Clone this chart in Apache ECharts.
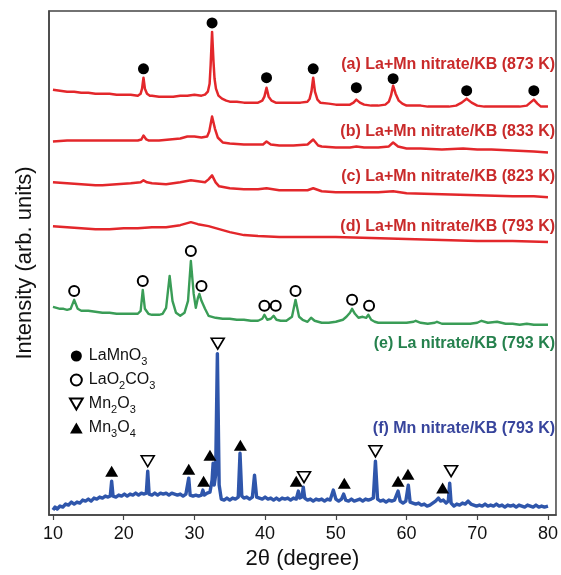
<!DOCTYPE html>
<html>
<head>
<meta charset="utf-8">
<script src="https://cdn.jsdelivr.net/npm/echarts@6/dist/echarts.min.js"></script>
<style>
html,body{margin:0;padding:0;background:#fff;}
#chart{width:561px;height:575px;}
</style>
</head>
<body>
<div id="chart"></div>
<script>
// X ticks
const xTicks = [10, 20, 30, 40, 50, 60, 70, 80];

// Trace labels
const traceNames = [
  '(a) La+Mn nitrate/KB (873 K)',
  '(b) La+Mn nitrate/KB (833 K)',
  '(c) La+Mn nitrate/KB (823 K)',
  '(d) La+Mn nitrate/KB (793 K)',
  '(e) La nitrate/KB (793 K)',
  '(f) Mn nitrate/KB (793 K)'
];

// Intensity (arb. units, offset stacked)
const traceA = [[10,427],[11,426],[12,425],[13,425],[14,424],[15,424],[16,423],[17,423],[18,423],[19,422],[20,422],[21,422],[22,421],[22.4,423],[22.6,428],[22.8,439],[23.0,428],[23.3,423],[23.7,421],[24,421],[25,420],[26,420],[27,420],[28,421],[29,421],[30,422],[31,421],[31.5,422],[31.9,425],[32.15,433],[32.3,452],[32.5,485],[32.7,455],[32.85,438],[33.05,428],[33.4,421],[33.9,418],[34.5,416],[35,415],[36,415],[37,414],[38,414],[39,414],[39.6,416],[39.9,420],[40.2,429],[40.5,420],[40.9,416],[41.5,414],[42,414],[43,414],[44,414],[45,414],[46,415],[46.3,418],[46.55,425],[46.8,439],[47.05,425],[47.4,417],[47.8,414],[48,413],[49,413],[50,412],[51,412],[52,412],[52.5,414],[52.9,417],[53.4,414],[54,412],[55,411],[56,411],[57,412],[57.5,415],[57.8,421],[58.1,431],[58.45,423],[58.9,416],[59.4,413],[60,411],[61,411],[62,411],[63,410],[64,410],[65,410],[66,410],[67,411],[67.8,414],[68.5,418],[69.2,414],[70,411],[71,410],[72,410],[73,410],[74,410],[75,410],[76,410],[77,411],[77.5,414],[78,417],[78.5,413],[79,410],[80,410]];
const traceB = [[10,375],[12,376],[15,376],[20,376],[22,376],[22.5,377],[22.8,381],[23.2,377],[23.5,376],[25,376],[28,378],[29,380],[30,380],[31,379],[31.8,380],[32.1,385],[32.5,400],[32.9,388],[33.3,379],[34,374],[35,373],[37,372],[39,372],[39.7,372],[40.2,375],[40.8,372],[42,371],[44,371],[46,372],[46.8,377],[47.5,371],[48,370],[50,369],[52,369],[52.9,370],[54,369],[56,369],[57.5,370],[58.1,374],[58.8,370],[60,368],[62,368],[65,367],[68,368],[70,367],[72,367],[75,366],[78,365],[80,364]];
const traceC = [[10,334],[12,333],[14,332],[16,331],[17,331],[19,332],[21,333],[22.4,334],[22.8,336],[23.3,334],[24,333],[26,332],[28,334],[29.5,336],[30.5,335],[31.5,334],[32,337],[32.5,341],[33,334],[33.5,330],[35,328],[37,327],[39,327],[40.2,328],[42,326],[44,326],[46,326],[46.8,328],[48,325],[50,324],[53,324],[56,324],[58.1,325],[60,323],[65,322],[70,321],[75,320],[78,320],[80,319]];
const traceD = [[10,290],[12,289],[14,288],[16,287],[18,287],[20,288],[22,288],[24,289],[26,289],[28,291],[29.5,294],[30.5,292],[32,290],[33,288],[35,284],[37,281],[39,280],[42,279],[45,279],[48,279],[50,279],[55,278],[60,277],[65,276],[70,275],[75,275],[80,274]];
const traceE = [[10,209],[10.5,208],[11,207],[11.5,207],[12,206],[12.5,207],[13.0,216],[13.5,207],[14,205],[15,205],[16,204],[17,203],[18,203],[19,202],[20,202],[21,202],[22,202],[22.4,205],[22.7,226],[23.0,207],[23.5,202],[24,201],[25,201],[25.5,202],[26.0,208],[26.5,240],[26.9,215],[27.4,203],[28,200],[28.6,203],[29.1,215],[29.5,255],[29.9,222],[30.2,208],[30.5,218],[30.7,222],[31.0,215],[31.2,217],[31.5,207],[32,200],[32.5,199],[33,198],[34,197],[35,197],[36,196],[37,196],[38,195],[39,195],[39.6,197],[39.9,201],[40.3,196],[40.8,197],[41.2,200],[41.6,196],[42.2,195],[43,195],[43.8,199],[44.3,216],[44.8,199],[45.3,196],[46,194],[46.5,198],[47,195],[48,193],[49,193],[50,194],[51,196],[51.5,199],[52,203],[52.3,207],[52.7,202],[53.2,198],[53.8,199],[54.3,198],[54.6,201],[55,196],[55.5,194],[56,193],[57,193],[58,193],[59,193],[60,193],[61,194],[61.3,195],[62,193],[63,192],[64,193],[64.3,194],[65,192],[66,192],[67,192],[68,192],[69,192],[70,193],[70.6,195],[71.5,193],[72.8,194],[74,192],[75,192],[76,191],[77,192],[78,191],[79,191],[80,191]];
const traceF = [[10,5],[10.3,8],[10.6,6],[11,9],[11.4,8],[11.8,11],[12.2,10],[12.6,13],[13,11],[13.4,13],[13.8,12],[14.2,15],[14.6,14],[15,16],[15.4,14],[15.8,17],[16.2,16],[16.6,18],[17,17],[17.4,19],[17.8,18],[18.1,19],[18.3,34],[18.5,19],[18.9,18],[19.3,20],[19.7,19],[20.1,21],[20.5,19],[20.9,21],[21.3,20],[21.7,22],[22.1,20],[22.5,22],[22.9,21],[23.2,22],[23.4,44],[23.6,21],[24,20],[24.4,22],[24.8,20],[25.2,22],[25.6,21],[26,22],[26.4,20],[26.8,22],[27.2,21],[27.6,20],[28,21],[28.4,19],[28.8,21],[29.0,21],[29.2,37],[29.4,20],[29.8,19],[30.2,20],[30.6,19],[31.0,20],[31.2,25],[31.4,20],[31.8,22],[32.2,23],[32.5,35],[32.65,52],[32.8,30],[33.0,40],[33.25,162],[33.5,30],[33.8,16],[34.2,15],[34.6,17],[35,15],[35.4,17],[35.8,16],[36.2,18],[36.45,62],[36.7,19],[37,17],[37.4,18],[37.8,16],[38.2,18],[38.5,40],[38.8,18],[39.2,17],[39.6,16],[40,18],[40.4,16],[40.8,17],[41.2,15],[41.6,17],[42,15],[42.4,17],[42.8,16],[43.2,17],[43.6,15],[44,17],[44.4,16],[44.7,24],[44.9,17],[45.2,18],[45.4,28],[45.6,17],[46,15],[46.4,16],[46.8,14],[47.2,16],[47.6,15],[48,16],[48.4,14],[48.8,16],[49.2,15],[49.65,25],[50,16],[50.4,14],[50.8,16],[51.1,21],[51.4,15],[51.8,14],[52.2,16],[52.6,14],[53,15],[53.4,16],[53.8,14],[54.2,16],[54.6,15],[55,16],[55.3,17],[55.6,54],[55.9,16],[56.3,14],[56.7,15],[57.1,13],[57.5,15],[57.9,14],[58.3,15],[58.8,24],[59.1,14],[59.5,12],[59.9,14],[60.25,30],[60.5,13],[60.9,12],[61.3,11],[61.7,12],[62.1,10],[62.5,11],[62.9,9],[63.3,10],[63.7,12],[64.1,14],[64.5,17],[64.8,14],[65.2,15],[65.6,12],[65.9,14],[66.1,32],[66.3,12],[66.7,9],[67.1,11],[67.5,10],[67.9,12],[68.3,11],[68.7,14],[69.1,11],[69.5,10],[69.9,9],[70.3,10],[70.7,9],[71.1,11],[71.5,9],[71.9,10],[72.3,9],[72.7,11],[73.1,9],[73.5,10],[73.9,8],[74.3,10],[74.7,9],[75.1,10],[75.5,8],[75.9,10],[76.3,9],[76.7,8],[77.1,10],[77.5,9],[77.9,8],[78.3,10],[78.7,8],[79.1,9],[79.5,8],[80,9]];

// Phase marker positions [2θ, intensity]
const laMnO3Marks = [[22.8,448],[32.5,494],[40.2,439],[46.8,448],[52.9,429],[58.1,438],[68.5,426],[78,426]];
const laO2CO3Marks = [[13.0,225],[22.7,235],[29.5,265],[31.0,230],[39.9,210],[41.5,210],[44.3,225],[52.3,216],[54.7,210]];
const mn2O3Marks = [[23.4,54],[33.3,172],[45.5,38],[55.6,64],[66.3,44]];
const mn3O4Marks = [[18.3,44],[29.2,46],[31.3,34],[32.2,60],[36.5,70],[44.4,34],[51.2,32],[58.8,34],[60.2,41],[65.1,27]];

// Label anchor intensities for trace names
const labelLevels = [452, 385, 340, 290, 172, 87];

const traces = [traceA, traceB, traceC, traceD, traceE, traceF];
const lineColors = ['#e3272b', '#e3272b', '#e3272b', '#e3272b', '#3a9d57', '#2f56ab'];
const labelColors = ['#c92a2a', '#c92a2a', '#c92a2a', '#c92a2a', '#25814d', '#37449c'];
const lineWidths = [2.5, 2.5, 2.5, 2.5, 2.4, 3.4];

const FONT = '"Liberation Sans", Arial, Helvetica, sans-serif';

const chart = echarts.init(document.getElementById('chart'), null, {renderer: 'canvas'});

const series = [];
traces.forEach((d, i) => {
  series.push({
    type: 'line',
    name: traceNames[i],
    data: d,
    showSymbol: false,
    symbol: 'none',
    smooth: false,
    lineStyle: {color: lineColors[i], width: lineWidths[i], join: 'round', opacity: 1},
    silent: true,
    z: 2
  });
});

const downTri = 'path://M0,0 L12,0 L6,10.4 Z';
const upTri = 'path://M6,0 L12,10.4 L0,10.4 Z';

series.push({
  type: 'scatter', name: 'LaMnO3', data: laMnO3Marks,
  symbol: 'circle', symbolSize: 11,
  itemStyle: {color: '#000', opacity: 1}, z: 5
});
series.push({
  type: 'scatter', name: 'LaO2CO3', data: laO2CO3Marks,
  symbol: 'circle', symbolSize: 10,
  itemStyle: {color: '#fff', borderColor: '#000', borderWidth: 2, opacity: 1}, z: 5
});
series.push({
  type: 'scatter', name: 'Mn2O3', data: mn2O3Marks,
  symbol: downTri, symbolSize: [13, 11],
  itemStyle: {color: '#fff', borderColor: '#000', borderWidth: 1.6, opacity: 1}, z: 5
});
series.push({
  type: 'scatter', name: 'Mn3O4', data: mn3O4Marks,
  symbol: upTri, symbolSize: [13, 11],
  itemStyle: {color: '#000', opacity: 1}, z: 5
});

// Trace name labels anchored at the right end of each trace
series.push({
  type: 'scatter',
  name: 'labels',
  data: labelLevels.map((v, i) => ({
    value: [81.0, v],
    label: {show: true, formatter: traceNames[i], color: labelColors[i]}
  })),
  symbolSize: 0,
  silent: true,
  itemStyle: {opacity: 1},
  label: {
    show: true, position: 'left', distance: 0,
    fontFamily: FONT, fontSize: 16, fontWeight: 'bold', opacity: 1
  },
  z: 6
});

const subMap = {
  'LaMnO3': 'LaMnO{s|3}',
  'LaO2CO3': 'LaO{s|2}CO{s|3}',
  'Mn2O3': 'Mn{s|2}O{s|3}',
  'Mn3O4': 'Mn{s|3}O{s|4}'
};

const option = {
  animation: false,
  backgroundColor: '#fff',
  textStyle: {fontFamily: FONT},
  grid: {
    left: 49, right: 4, top: 11, bottom: 58,
    show: true, borderColor: '#444', borderWidth: 1.5, backgroundColor: 'transparent'
  },
  legend: {
    data: ['LaMnO3', 'LaO2CO3', 'Mn2O3', 'Mn3O4'],
    orient: 'vertical',
    left: 69, top: 345,
    padding: 0,
    itemGap: 2,
    itemWidth: 13, itemHeight: 11,
    selectedMode: false,
    formatter: n => subMap[n] || n,
    textStyle: {
      fontFamily: FONT, fontSize: 16, color: '#111', lineHeight: 22,
      padding: [0, 0, 0, 1],
      rich: {s: {fontFamily: FONT, fontSize: 11, color: '#111', lineHeight: 11, verticalAlign: 'bottom'}}
    }
  },
  xAxis: {
    type: 'value',
    min: 9.44, max: 81.13,
    name: '2θ (degree)',
    nameLocation: 'middle',
    nameGap: 33,
    nameTextStyle: {fontFamily: FONT, fontSize: 22, color: '#111'},
    axisLine: {show: true, lineStyle: {color: '#444', width: 1.5}},
    axisTick: {show: true, inside: false, length: 5, customValues: xTicks, lineStyle: {color: '#444', width: 1.2}},
    axisLabel: {show: true, customValues: xTicks, margin: 10, fontFamily: FONT, fontSize: 18, color: '#111'},
    splitLine: {show: false}
  },
  yAxis: {
    type: 'value',
    min: 0, max: 506,
    name: 'Intensity (arb. units)',
    nameLocation: 'middle',
    nameGap: 13,
    nameTextStyle: {fontFamily: FONT, fontSize: 22, color: '#111'},
    axisLine: {show: true, lineStyle: {color: '#444', width: 1.5}},
    axisTick: {show: false},
    axisLabel: {show: false},
    splitLine: {show: false}
  },
  series: series
};

chart.setOption(option);
</script>
</body>
</html>
